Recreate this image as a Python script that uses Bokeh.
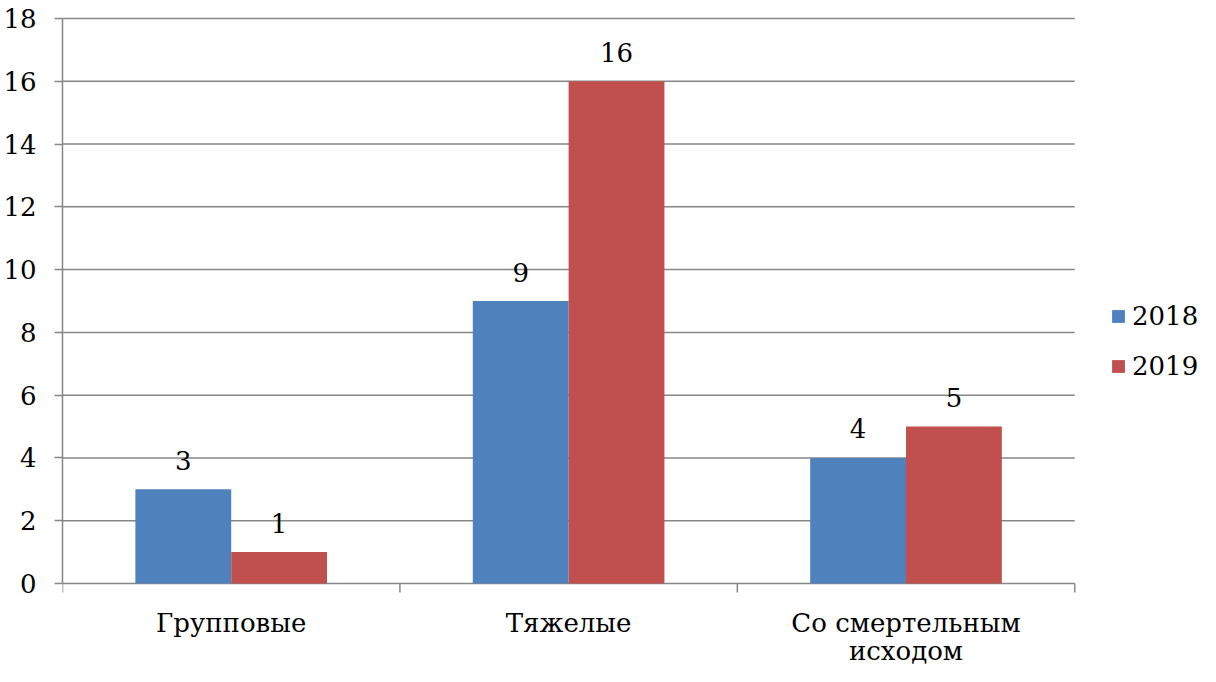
from math import pi
from bokeh.plotting import figure
from bokeh.models import (ColumnDataSource, FixedTicker, Legend, LegendItem, LabelSet, Range1d)
from bokeh.core.properties import value
from bokeh.embed import file_html
from bokeh.resources import INLINE

categories = ["Групповые", "Тяжелые", "Со смертельным\nисходом"]
series_names = ["2018", "2019"]
values_2018 = [3, 9, 4]
values_2019 = [1, 16, 5]
y_ticks = [0, 2, 4, 6, 8, 10, 12, 14, 16, 18]
colors = ["#4F81BD", "#C0504D"]

FS = "26px"
FONT = "DejaVu Serif"
grid_color = "#868686"

n = len(categories)
centers = [i + 0.5 for i in range(n)]
bounds_x = [float(i) for i in range(n + 1)]
bw = 0.284
x18 = [c - bw / 2 for c in centers]
x19 = [c + bw / 2 for c in centers]

src18 = ColumnDataSource(dict(x=x18, top=values_2018, lab=[str(v) for v in values_2018]))
src19 = ColumnDataSource(dict(x=x19, top=values_2019, lab=[str(v) for v in values_2019]))

# frame: left panel 60px for the y axis, rest of the figure is frame
W, H = 1200, 666
TOP, ZERO = 18.0, 583.0   # screen rows of the top and zero grid lines
px_x = 338.0              # pixels per category
px_y = (ZERO - TOP) / 18.0
x_end = (W - 60) / px_x
y_end = 18 + TOP / px_y
y_start = -(H - ZERO) / px_y

p = figure(width=W, height=H, output_backend="svg", toolbar_location=None,
           x_range=Range1d(0, x_end), y_range=Range1d(y_start, y_end), x_axis_type=None,
           min_border_left=60, min_border_right=0, min_border_top=0, min_border_bottom=0)
p.outline_line_color = None
p.background_fill_color = "white"
p.border_fill_color = "white"
p.xgrid.grid_line_color = None
p.ygrid.grid_line_color = None

# horizontal grid lines spanning the categories
p.segment(x0=bounds_x[0], x1=bounds_x[-1], y0=y_ticks, y1=y_ticks,
          line_color=grid_color, line_width=1.5)
# category separator ticks below the x axis
p.ray(x=bounds_x, y=0, length=9, angle=-pi / 2, length_units="screen",
      line_color=grid_color, line_width=1.5)

r18 = p.vbar(x="x", top="top", width=bw, source=src18, fill_color=colors[0], line_color=None)
r19 = p.vbar(x="x", top="top", width=bw, source=src19, fill_color=colors[1], line_color=None)

for src in (src18, src19):
    p.add_layout(LabelSet(x="x", y="top", text="lab", source=src, text_align="center",
                          text_baseline="middle", y_offset=29, text_font=value(FONT),
                          text_font_size=FS, text_color="black"))

# category labels
lines_x, lines_y, lines_t, lines_off = [], [], [], []
for c, cat in zip(centers, categories):
    for li, line in enumerate(cat.split("\n")):
        lines_x.append(c)
        lines_y.append(0)
        lines_t.append(line)
        lines_off.append(-39 - 28 * li)
cat_src = ColumnDataSource(dict(x=lines_x, y=lines_y, t=lines_t, off=lines_off))
p.add_layout(LabelSet(x="x", y="y", text="t", y_offset="off", source=cat_src,
                      text_align="center", text_baseline="middle", text_font=value(FONT),
                      text_font_size=FS, text_color="black"))

p.yaxis.ticker = FixedTicker(ticks=y_ticks)
p.yaxis.bounds = (y_ticks[0], y_ticks[-1])
p.yaxis.axis_line_color = grid_color
p.yaxis.axis_line_width = 1.5
p.yaxis.major_tick_line_color = grid_color
p.yaxis.major_tick_line_width = 1.5
p.yaxis.major_tick_out = 8
p.yaxis.major_tick_in = 0
p.yaxis.minor_tick_line_color = None
p.yaxis.major_label_standoff = 18
p.yaxis.major_label_text_font = FONT
p.yaxis.major_label_text_font_size = FS
p.yaxis.major_label_text_color = "black"

legend = Legend(items=[LegendItem(label=series_names[0], renderers=[r18]),
                       LegendItem(label=series_names[1], renderers=[r19])],
                location=(1048, 285), orientation="vertical")
legend.border_line_color = None
legend.background_fill_alpha = 0
legend.margin = 0
legend.padding = 0
legend.glyph_width = 16
legend.glyph_height = 16
legend.label_height = 30
legend.spacing = 20
legend.label_standoff = 6
legend.label_text_font = FONT
legend.label_text_font_size = FS
legend.label_text_color = "black"
p.add_layout(legend, "center")

open("out.html", "w").write(file_html(p, INLINE))
